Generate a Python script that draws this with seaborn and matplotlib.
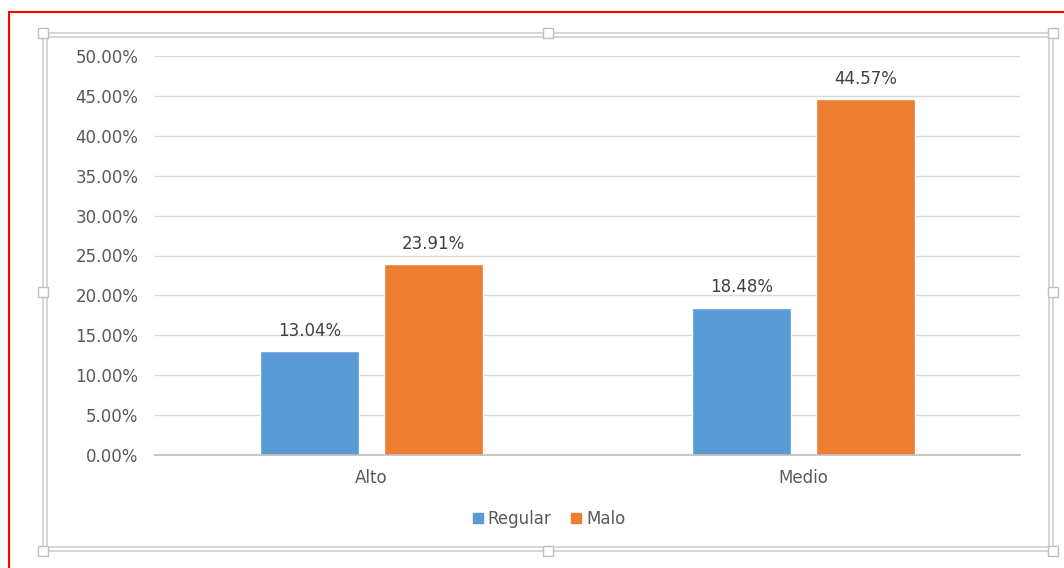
import pandas as pd
import matplotlib.pyplot as plt
import matplotlib.patches as mpatches
from matplotlib.ticker import PercentFormatter
import seaborn as sns

categories = ['Alto', 'Medio']
series = ['Regular', 'Malo']
regular = [13.04, 18.48]
malo = [23.91, 44.57]
colors = ['#5b9bd5', '#ed7d31']

df = pd.DataFrame({
    'cat': categories * 2,
    'serie': ['Regular'] * 2 + ['Malo'] * 2,
    'val': regular + malo,
})

sns.set_theme(style='white')
plt.rcParams['font.family'] = ['DejaVu Sans']

fig = plt.figure(figsize=(10.64, 5.68), dpi=100)
ax = fig.add_axes([155 / 1064, 113 / 568, 865 / 1064, 399 / 568])

sns.barplot(data=df, x='cat', y='val', hue='serie', hue_order=series,
            palette=colors, width=0.573, gap=0.2, saturation=1,
            ax=ax, legend=False)

for cont in ax.containers:
    ax.bar_label(cont, labels=[f'{v:.2f}%' for v in cont.datavalues],
                 padding=8, fontsize=12, color='#404040')

ax.set_xlim(-0.5, 1.5)
ax.set_ylim(0, 50)
ax.set_yticks(range(0, 51, 5))
ax.yaxis.set_major_formatter(PercentFormatter(decimals=2))
ax.grid(axis='y', color='#d9d9d9', linewidth=1)
ax.set_axisbelow(True)
for s in ['top', 'right', 'left']:
    ax.spines[s].set_visible(False)
ax.spines['bottom'].set_color('#bfbfbf')
ax.tick_params(axis='both', length=0, labelsize=12, labelcolor='#595959')
ax.tick_params(axis='y', pad=12)
ax.tick_params(axis='x', pad=10)
ax.set_xlabel('')
ax.set_ylabel('')

handles = [mpatches.Patch(color=c, label=s) for c, s in zip(colors, series)]
fig.legend(handles=handles, loc='center', bbox_to_anchor=(549 / 1064, 1 - 519 / 568),
           ncol=2, frameon=False, fontsize=12, handlelength=0.6, handleheight=0.6,
           handletextpad=0.3, columnspacing=1.2, labelcolor='#595959')

# red outer border (image crop)
fig.patches.append(mpatches.Rectangle((9 / 1064, -0.1), 1.2, 1 - 12 / 568 + 0.1,
                                      transform=fig.transFigure, fill=False,
                                      edgecolor='#ff0000', linewidth=1.5))

# grey selection frame of the chart object
fx0, fx1 = 43 / 1064, 1053 / 1064
fy0, fy1 = 1 - 551 / 568, 1 - 33 / 568
for off in [0, 4]:
    fig.patches.append(mpatches.Rectangle(
        (fx0 + off / 1064, fy0 + off / 568), fx1 - fx0 - 2 * off / 1064, fy1 - fy0 - 2 * off / 568,
        transform=fig.transFigure, fill=False, edgecolor='#d0d0d0', linewidth=1.2))
hx = [fx0, (fx0 + fx1) / 2, fx1]
hy = [fy0, (fy0 + fy1) / 2, fy1]
for x in hx:
    for y in hy:
        if x == hx[1] and y == hy[1]:
            continue
        fig.patches.append(mpatches.Rectangle(
            (x - 5 / 1064, y - 5 / 568), 10 / 1064, 10 / 568, transform=fig.transFigure,
            facecolor='white', edgecolor='#c0c0c0', linewidth=1.0, zorder=5))

fig.savefig('out.png', dpi=100, facecolor='white')
